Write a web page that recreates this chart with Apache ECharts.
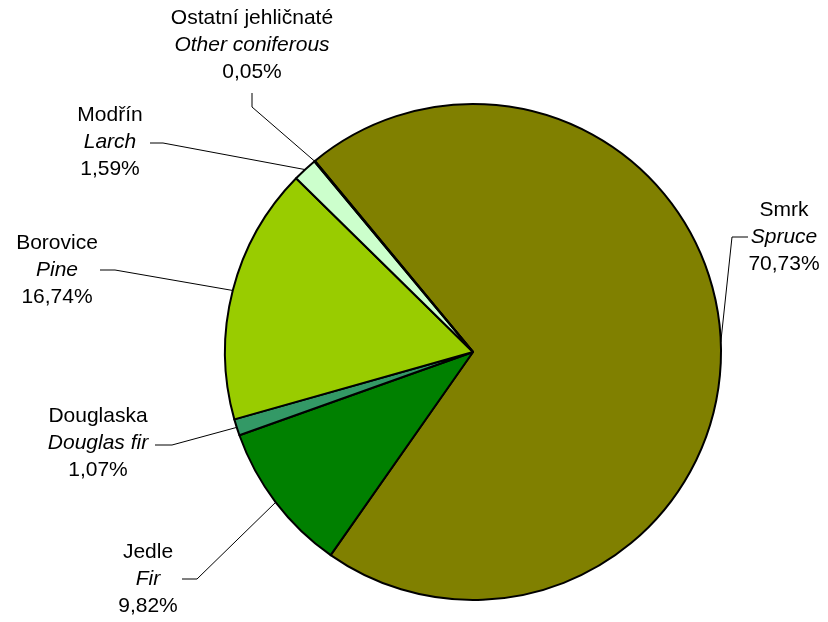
<!DOCTYPE html>
<html>
<head>
<meta charset="utf-8">
<script src="https://cdn.jsdelivr.net/npm/echarts@6/dist/echarts.min.js"></script>
<style>
html,body{margin:0;padding:0;background:#fff;}
#chart{width:828px;height:622px;}
</style>
</head>
<body>
<div id="chart"></div>
<script>
// Data
var namesCz = ['Smrk', 'Jedle', 'Douglaska', 'Borovice', 'Modřín', 'Ostatní jehličnaté'];
var namesEn = ['Spruce', 'Fir', 'Douglas fir', 'Pine', 'Larch', 'Other coniferous'];
var shares = [70.73, 9.82, 1.07, 16.74, 1.59, 0.05];
var colors = ['#808000', '#008000', '#339966', '#99CC00', '#CCFFCC', '#FFFF99'];

// Layout (pixels)
var CX = 473, CY = 352, R = 248, START = 129.6;
// label centre offset, bend point offset, line end offset (relative to pie centre)
var labelLayoutPx = [
  [311, -115, 259, -115, 275, -115],
  [-325, 227, -276, 227, -291, 227],
  [-375, 91, -301, 93, -318, 93],
  [-416, -82, -358, -82, -373, -82],
  [-363, -210, -310, -209, -323, -209],
  [-221, -307, -221, -245, -221, -259]
];

var total = shares.reduce(function (a, b) { return a + b; }, 0);
function edgePoint(i) {
  var cum = 0;
  for (var k = 0; k < i; k++) cum += shares[k];
  var mid = (START - (cum + shares[i] / 2) / total * 360) * Math.PI / 180;
  return [CX + R * Math.cos(mid), CY - R * Math.sin(mid)];
}

var data = shares.map(function (v, i) {
  return { value: v, name: namesCz[i], itemStyle: { color: colors[i] } };
});

var FONT = 'Liberation Sans, Arial, sans-serif';
var chart = echarts.init(document.getElementById('chart'));
chart.setOption({
  animation: false,
  backgroundColor: '#ffffff',
  series: [{
    type: 'pie',
    center: [CX, CY],
    radius: R,
    startAngle: START,
    clockwise: true,
    avoidLabelOverlap: false,
    minShowLabelAngle: 0,
    data: data,
    itemStyle: { borderColor: '#000', borderWidth: 2 },
    emphasis: { disabled: true },
    label: {
      show: true,
      position: 'outside',
      fontFamily: FONT,
      fontSize: 21,
      color: '#000',
      lineHeight: 27,
      formatter: function (p) {
        var i = p.dataIndex;
        return '{a|' + namesCz[i] + '}\n{b|' + namesEn[i] + '}\n{a|' + shares[i].toFixed(2).replace('.', ',') + '%}';
      },
      rich: {
        a: { fontFamily: FONT, fontSize: 21, lineHeight: 27, color: '#000', align: 'center' },
        b: { fontFamily: FONT, fontSize: 21, lineHeight: 27, color: '#000', fontStyle: 'italic', align: 'center' }
      }
    },
    labelLine: { show: true, lineStyle: { color: '#000', width: 1 } },
    labelLayout: function (params) {
      var i = params.dataIndex;
      var L = labelLayoutPx[i];
      var e = edgePoint(i);
      return {
        x: CX + L[0],
        y: CY + L[1],
        align: 'center',
        verticalAlign: 'middle',
        labelLinePoints: [e, [CX + L[2], CY + L[3]], [CX + L[4], CY + L[5]]]
      };
    }
  }]
});
</script>
</body>
</html>
